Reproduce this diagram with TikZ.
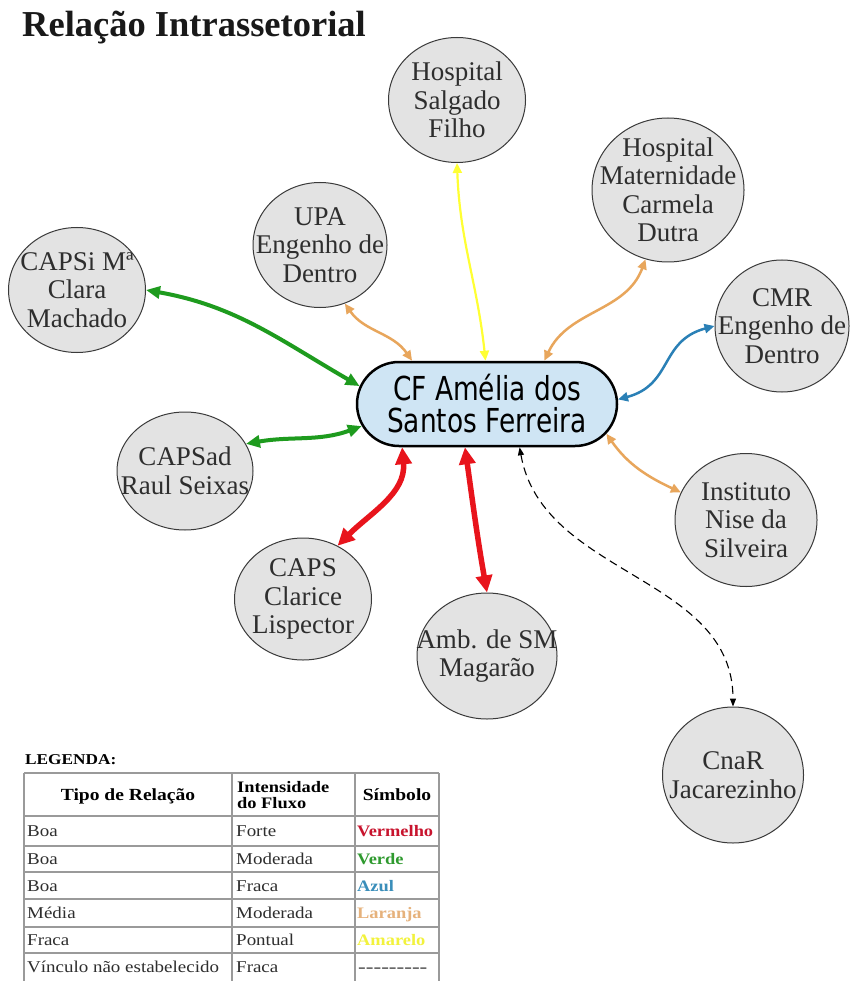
\documentclass[tikz,border=0pt]{standalone}
\usepackage{fontspec}
\setmainfont{Liberation Serif}
\newfontfamily\cffont[FakeStretch=0.8]{DejaVu Sans}
\newfontfamily\tabfont[FakeStretch=1.15]{Liberation Serif}
\usetikzlibrary{arrows.meta,shapes.geometric,shapes.misc}
\definecolor{cred}{HTML}{E8141C}
\definecolor{cgreen}{HTML}{1E9B1E}
\definecolor{cblue}{HTML}{2A80B6}
\definecolor{corange}{HTML}{E8A65C}
\definecolor{cyellow}{HTML}{FFFF33}
\definecolor{circfill}{HTML}{E3E3E3}
\definecolor{circline}{HTML}{3A3A3A}
\definecolor{cffill}{HTML}{CFE5F4}
\definecolor{txtgray}{HTML}{2E2E2E}
\definecolor{tabline}{HTML}{9A9A9A}
\definecolor{lgred}{HTML}{C8142E}
\definecolor{lggreen}{HTML}{2F9A2F}
\definecolor{lgblue}{HTML}{3A8EBA}
\definecolor{lgorange}{HTML}{E6B27C}
\definecolor{lgyellow}{HTML}{F2F23C}
\tikzset{
  ell/.style={ellipse, draw=circline, fill=circfill, line width=1pt, inner sep=0pt},
  etxt/.style={align=center, inner sep=0pt, text=txtgray, font=\fontsize{27}{28.5}\selectfont},
  redarr/.style={draw=cred, line width=5.5pt, {Triangle[length=17pt,width=16pt]}-{Triangle[length=17pt,width=16pt]}},
  grnarr/.style={draw=cgreen, line width=4pt, {Triangle[length=14pt,width=12pt]}-{Triangle[length=14pt,width=12pt]}},
  orarr/.style={draw=corange, line width=2.5pt, {Triangle[length=10pt,width=9pt]}-{Triangle[length=10pt,width=9pt]}},
  yelarr/.style={draw=cyellow, line width=2.2pt, {Triangle[length=10pt,width=9pt]}-{Triangle[length=10pt,width=9pt]}},
  bluarr/.style={draw=cblue, line width=2.5pt, {Triangle[length=10pt,width=9pt]}-{Triangle[length=10pt,width=9pt]}},
  dasharr/.style={draw=black, line width=1.1pt, dash pattern=on 8pt off 5pt, {Triangle[length=8pt,width=6pt]}-{Triangle[length=8pt,width=6pt]}},
  tabtxt/.style={anchor=base west, inner sep=0pt, font=\tabfont\fontsize{16.5}{16}\selectfont, text=txtgray},
  tabhead/.style={anchor=base, inner sep=0pt, font=\tabfont\bfseries\fontsize{17}{16}\selectfont, text=black},
  tabsym/.style={anchor=base west, inner sep=0pt, font=\tabfont\bfseries\fontsize{16}{16}\selectfont},
  tline/.style={draw=tabline, line width=1.1pt}
}
\begin{document}
\begin{tikzpicture}[x=1pt,y=-1pt]
\useasboundingbox[fill=white] (0,0) rectangle (852,981);

% title
\node[anchor=base west, inner sep=0pt, font=\bfseries\fontsize{36.5}{40}\selectfont, text=black!90] (title) at (22,37) {Relação Intrassetorial};

% centre node
\node[rounded rectangle, draw=black, line width=2.5pt, fill=cffill, minimum width=260pt, minimum height=84pt, inner sep=0pt] (cf) at (487,404) {};
\node[align=center, inner sep=0pt, font=\cffont\fontsize{33}{32}\selectfont] (cf-t) at (487,404) {CF Amélia dos\\Santos Ferreira};

% satellite nodes
\node[ell, minimum width=137pt, minimum height=125pt] (hsf) at (457,100) {};
\node[etxt] (hsf-t) at (hsf) {Hospital\\Salgado\\Filho};
\node[ell, minimum width=152pt, minimum height=144pt] (mat) at (668,190) {};
\node[etxt] (mat-t) at (mat) {Hospital\\Maternidade\\Carmela\\Dutra};
\node[ell, minimum width=134pt, minimum height=125pt] (upa) at (320,245) {};
\node[etxt] (upa-t) at (upa) {UPA\\Engenho de\\Dentro};
\node[ell, minimum width=137pt, minimum height=125pt] (capsi) at (77,290) {};
\node[etxt] (capsi-t) at (capsi) {CAPSi Mª\\Clara\\Machado};
\node[ell, minimum width=134pt, minimum height=132pt] (cmr) at (782,326) {};
\node[etxt] (cmr-t) at (cmr) {CMR\\Engenho de\\Dentro};
\node[ell, minimum width=136pt, minimum height=118pt] (capsad) at (185,471) {};
\node[etxt] (capsad-t) at (capsad) {CAPSad\\Raul Seixas};
\node[ell, minimum width=142pt, minimum height=133pt] (inst) at (746,520) {};
\node[etxt] (inst-t) at (inst) {Instituto\\Nise da\\Silveira};
\node[ell, minimum width=137pt, minimum height=122pt] (caps) at (303,599) {};
\node[etxt] (caps-t) at (caps) {CAPS\\Clarice\\Lispector};
\node[ell, minimum width=140pt, minimum height=126pt] (amb) at (487,656) {};
\node[etxt] (amb-t) at (amb) {Amb. de SM\\Magarão};
\node[ell, minimum width=141pt, minimum height=136pt] (cnar) at (733,775) {};
\node[etxt] (cnar-t) at (cnar) {CnaR\\Jacarezinho};

% connectors
\draw[grnarr] (capsi.0) to[out=-10,in=150] (cf.172);
\draw[grnarr] (capsad.24) to[out=10,in=200] (cf.190);
\draw[orarr] (upa.293) to[out=-55,in=125] (cf.150);
\draw[yelarr] (hsf.270) to[out=-88,in=96] (cf.92);
\draw[orarr] (cf.37) to[out=65,in=-110] (mat.252);
\draw[bluarr] (cf.2) to[out=15,in=195,looseness=1.2] (cmr.180);
\draw[orarr] (cf.346) to[out=-55,in=155] (inst.157);
\draw[dasharr] (cf.307) to[out=-80,in=90] (cnar.90);
\draw[redarr] (cf.243) to[out=-82,in=100] (amb.90);
\draw[redarr] (cf.207) to[out=-85,in=45] (caps.57);

% legend
\node[anchor=base west, inner sep=0pt, font=\tabfont\bfseries\fontsize{15}{16}\selectfont] (leg) at (25,764) {LEGENDA:};
\foreach \yy in {773,816,846,872,899,927,953} \draw[tline] (24,\yy) -- (439,\yy);
\foreach \xx in {24,232,355,439} \draw[tline] (\xx,773) -- (\xx,981);

\node[tabhead] (h1) at (128,800) {Tipo de Relação};
\node[anchor=base west, inner sep=0pt, font=\tabfont\bfseries\fontsize{16}{16}\selectfont] (h2) at (237,792) {Intensidade};
\node[anchor=base west, inner sep=0pt, font=\tabfont\bfseries\fontsize{16}{16}\selectfont] (h2b) at (237,808) {do Fluxo};
\node[tabhead] (h3) at (397,800) {Símbolo};

\node[tabtxt] (r1a) at (27,836) {Boa};
\node[tabtxt] (r1b) at (236,836) {Forte};
\node[tabsym, text=lgred] (r1c) at (357,836) {Vermelho};
\node[tabtxt] (r2a) at (27,864) {Boa};
\node[tabtxt] (r2b) at (236,864) {Moderada};
\node[tabsym, text=lggreen] (r2c) at (357,864) {Verde};
\node[tabtxt] (r3a) at (27,891) {Boa};
\node[tabtxt] (r3b) at (236,891) {Fraca};
\node[tabsym, text=lgblue] (r3c) at (357,891) {Azul};
\node[tabtxt] (r4a) at (27,918) {Média};
\node[tabtxt] (r4b) at (236,918) {Moderada};
\node[tabsym, text=lgorange] (r4c) at (357,918) {Laranja};
\node[tabtxt] (r5a) at (27,945) {Fraca};
\node[tabtxt] (r5b) at (236,945) {Pontual};
\node[tabsym, text=lgyellow] (r5c) at (357,945) {Amarelo};
\node[tabtxt] (r6a) at (27,972) {Vínculo não estabelecido};
\node[tabtxt] (r6b) at (236,972) {Fraca};
\node[tabtxt, font=\tabfont\fontsize{16.5}{16}\selectfont\addfontfeature{FakeStretch=1.4}] (r6c) at (358,972) {-{}-{}-{}-{}-{}-{}-{}-{}-};
\end{tikzpicture}
\end{document}
